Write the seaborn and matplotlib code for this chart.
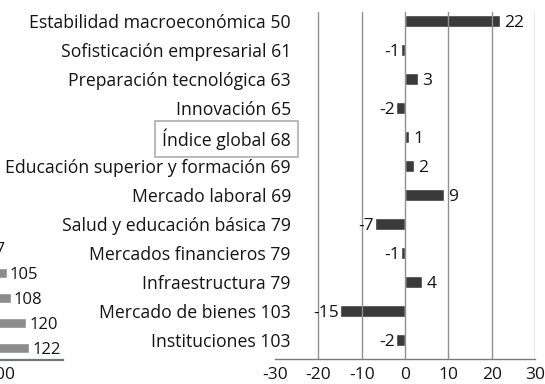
import matplotlib
matplotlib.use("Agg")
import matplotlib.pyplot as plt
import seaborn as sns
import pandas as pd
import numpy as np

# Pillar names, 2012 rank and change in rank
pillars = [
    "Estabilidad macroeconómica",
    "Sofisticación empresarial",
    "Preparación tecnológica",
    "Innovación",
    "Índice global",
    "Educación superior y formación",
    "Mercado laboral",
    "Salud y educación básica",
    "Mercados financieros",
    "Infraestructura",
    "Mercado de bienes",
    "Instituciones",
]
ranks = [50, 61, 63, 65, 68, 69, 69, 79, 79, 79, 103, 103]
changes = [22, -1, 3, -2, 1, 2, 9, -7, -1, 4, -15, -2]
x_ticks = [-30, -20, -10, 0, 10, 20, 30]

# neighbouring panel (country ranks)
side_values = [87, 105, 108, 120, 122]
side_ticks = [100]

BAR = "#3a3a3a"
SIDE_BAR = "#8c8c8c"
GRID = "#8f8f8f"
TEXT = "#141414"

sns.set_theme(style="white")
plt.rcParams["font.family"] = ["Open Sans", "DejaVu Sans"]

W, H = 545, 384
fig = plt.figure(figsize=(W / 100, H / 100), dpi=100)
fig.patch.set_facecolor("white")


def px_axes(left, top, right, bottom):
    return fig.add_axes([left / W, 1 - bottom / H, (right - left) / W, (bottom - top) / H])


# ---- main panel: change in rank by pillar ----
ax = px_axes(275, 12, 535, 359)
labels = [f"{p} {r}" for p, r in zip(pillars, ranks)]
df = pd.DataFrame({"pilar": labels, "cambio": changes})
sns.barplot(data=df, x="cambio", y="pilar", orient="h", color=BAR,
            saturation=1, width=0.43, ax=ax)
ax.set_xlim(-30, 30)
ax.set_ylim(11.655, -0.31)
ax.set_xlabel("")
ax.set_ylabel("")
ax.set_xticks(x_ticks)
ax.set_xticklabels([str(t) for t in x_ticks])
ax.set_xticks(np.arange(-25, 30, 10), minor=True)
ax.tick_params(axis="x", which="major", direction="out", length=4, width=1,
               color=GRID, labelsize=12.5, labelcolor=TEXT, pad=1.5)
ax.tick_params(axis="x", which="minor", direction="out", length=2, width=0.8, color=GRID)
ax.tick_params(axis="y", length=0, pad=-11.5, labelsize=12.7, labelcolor=TEXT)

ax.grid(axis="x", color=GRID, lw=1)
ax.grid(axis="y", visible=False)
ax.set_axisbelow(False)
ax.xaxis.get_gridlines()[0].set_visible(False)

for side in ("left", "top", "right"):
    ax.spines[side].set_visible(False)
ax.spines["bottom"].set_color("#7a7a7a")
ax.spines["bottom"].set_linewidth(1)

for i, v in enumerate(changes):
    if v >= 0:
        ax.annotate(str(v), (v, i), xytext=(4, 0), textcoords="offset pixels",
                    ha="left", va="center_baseline", fontsize=12.5, color=TEXT)
    else:
        ax.annotate(str(v), (v, i), xytext=(-1, 0), textcoords="offset pixels",
                    ha="right", va="center_baseline", fontsize=12.5, color=TEXT)

# frame around the overall index
global_label = ax.get_yticklabels()[pillars.index("Índice global")]
global_label.set_bbox(dict(boxstyle="square,pad=0.4", fc="white", ec="#a5a5a5", lw=1.1))

# ---- neighbouring panel, cut by the left edge ----
ax2 = px_axes(-132, 235.5, 63, 360)
sdf = pd.DataFrame({"pos": [str(i) for i in range(len(side_values))], "rank": side_values})
sns.barplot(data=sdf, x="rank", y="pos", orient="h", color=SIDE_BAR,
            saturation=1, width=0.4, ax=ax2)
ax2.set_xlim(0, 147.7)
ax2.set_ylim(4.48, -0.5)
ax2.set_xlabel("")
ax2.set_ylabel("")
ax2.set_yticks([])
ax2.set_xticks(side_ticks)
ax2.set_xticklabels([str(t) for t in side_ticks])
ax2.tick_params(axis="x", length=0, labelsize=12.5, labelcolor=TEXT, pad=5)
for side in ("left", "top", "right"):
    ax2.spines[side].set_visible(False)
ax2.spines["bottom"].set_color("#6f7480")
ax2.spines["bottom"].set_linewidth(1.6)
ax2.patch.set_alpha(0)
for i, v in enumerate(side_values):
    ax2.annotate(str(v), (v, i), xytext=(3, 0), textcoords="offset pixels",
                 ha="left", va="center_baseline", fontsize=12, color=TEXT)

fig.savefig("out.png", dpi=100, facecolor="white")
